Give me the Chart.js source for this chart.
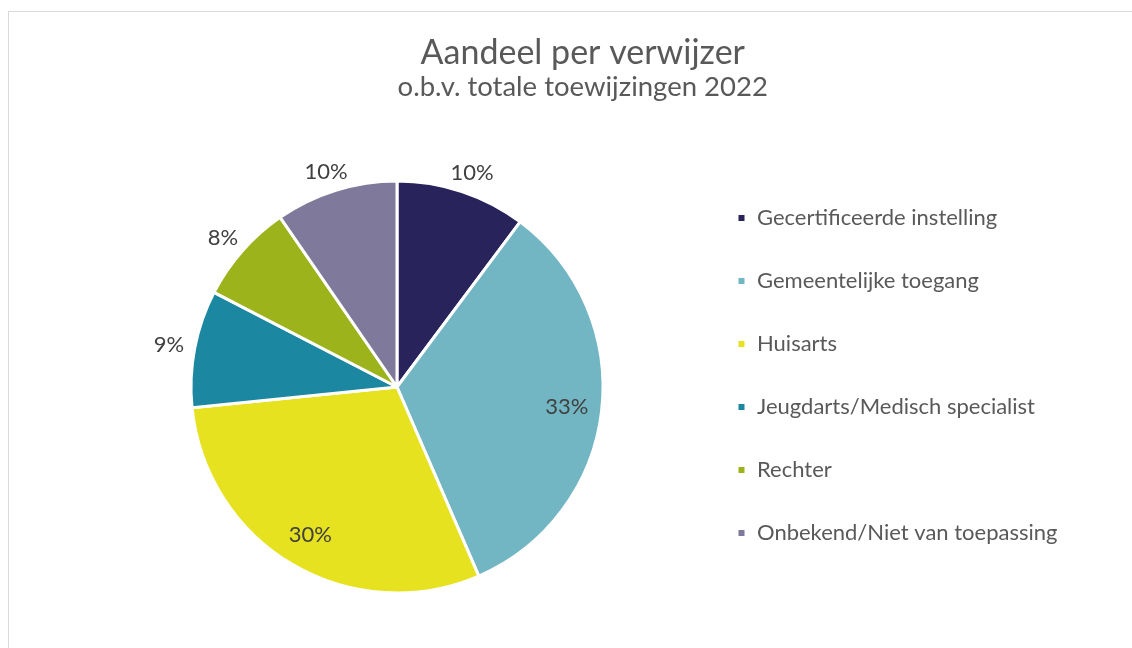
<!DOCTYPE html>
<html>
<head>
<meta charset="utf-8">
<script src="https://cdn.jsdelivr.net/npm/chart.js"></script>
<style>
  html, body { margin: 0; padding: 0; background: #fff; overflow: hidden; width: 1132px; height: 648px; }
  .frame { position: absolute; left: 8px; top: 11px; width: 1200px; height: 700px; border-left: 1px solid #d9d9d9; border-top: 1px solid #d9d9d9; }
  .wrap { position: absolute; left: 9px; top: 12px; width: 1137px; height: 636px; }
</style>
</head>
<body>
<div class="frame"></div>
<div class="wrap"><canvas id="pieChart"></canvas></div>
<script>
const categories = [
    'Gecertificeerde instelling',
    'Gemeentelijke toegang',
    'Huisarts',
    'Jeugdarts/Medisch specialist',
    'Rechter',
    'Onbekend/Niet van toepassing'
];
const shares = [10.2, 33.3, 29.9, 9.2, 7.8, 9.6];
const sliceColors = ['#29235c', '#72b6c3', '#e7e220', '#1b87a0', '#9db31b', '#7f799b'];

const FONT = 'Lato, Calibri, "Noto Sans", sans-serif';
const textGrey = '#595959';

// percentage labels: big slices inside, small ones just outside the edge
const sliceLabels = {
    id: 'sliceLabels',
    afterDatasetsDraw(chart) {
        const ctx = chart.ctx;
        const meta = chart.getDatasetMeta(0);
        ctx.save();
        ctx.font = '22px ' + FONT;
        ctx.fillStyle = '#404040';
        ctx.textAlign = 'center';
        ctx.textBaseline = 'middle';
        meta.data.forEach((arc, i) => {
            const v = shares[i];
            const text = Math.round(v) + '%';
            const mid = (arc.startAngle + arc.endAngle) / 2;
            const c = Math.cos(mid), s = Math.sin(mid);
            let x, y;
            if (v >= 20) {
                x = arc.x + c * arc.outerRadius * 0.83;
                y = arc.y + s * arc.outerRadius * 0.83;
            } else {
                const w = ctx.measureText(text).width;
                const h = 17;
                const r = arc.outerRadius + 11;
                x = arc.x + c * r + c * w / 2;
                y = arc.y + s * r + s * h / 2;
            }
            ctx.fillText(text, x, y);
        });
        ctx.restore();
    }
};

const chart = new Chart(document.getElementById('pieChart'), {
    type: 'pie',
    data: {
        labels: categories,
        datasets: [{
            data: shares,
            backgroundColor: sliceColors,
            borderColor: '#ffffff',
            borderWidth: 3,
            radius: 206
        }]
    },
    options: {
        responsive: true,
        maintainAspectRatio: false,
        animation: false,
        layout: {
            padding: { left: 89, right: 40, top: 0, bottom: 40 }
        },
        plugins: {
            title: {
                display: true,
                text: 'Aandeel per verwijzer',
                color: textGrey,
                font: { family: FONT, size: 34, weight: 'normal', lineHeight: 1 },
                padding: { top: 24, bottom: 3.25 }
            },
            subtitle: {
                display: true,
                text: 'o.b.v. totale toewijzingen 2022',
                color: textGrey,
                font: { family: FONT, size: 27.5, weight: 'normal', lineHeight: 1 },
                padding: { top: 0, bottom: 65.25 }
            },
            legend: {
                position: 'right',
                align: 'start',
                fullSize: false,
                labels: {
                    color: textGrey,
                    font: { family: FONT, size: 22 },
                    boxWidth: 9,
                    boxHeight: 9,
                    padding: 41
                }
            },
            tooltip: { enabled: false }
        }
    },
    plugins: [sliceLabels]
});

// nudge the right padding so the legend starts where the reference has it
const shift = chart.legend.left - 687;
chart.options.layout.padding.right += shift;
chart.update('none');
</script>
</body>
</html>
